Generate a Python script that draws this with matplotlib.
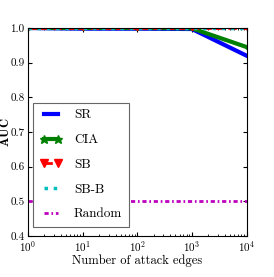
import matplotlib
matplotlib.use("Agg")
import matplotlib.pyplot as plt

plt.rcParams["font.family"] = ["cmr10", "DejaVu Serif"]
plt.rcParams["mathtext.fontset"] = "cm"
plt.rcParams["axes.formatter.use_mathtext"] = True
plt.rcParams["xtick.direction"] = "in"
plt.rcParams["ytick.direction"] = "in"
plt.rcParams["xtick.top"] = True
plt.rcParams["ytick.right"] = True

attack_edges = [1, 10, 100, 1000, 10000]
auc_sr = [1.0, 0.998, 0.998, 0.997, 0.920]
auc_cia = [1.0, 1.0, 1.0, 0.999, 0.945]
auc_sb = [1.0, 1.0, 1.0, 1.0, 1.0]
auc_sbb = [1.0, 1.0, 1.0, 1.0, 1.0]
auc_random = [0.5, 0.5, 0.5, 0.5, 0.5]
y_ticks = [0.4, 0.5, 0.6, 0.7, 0.8, 0.9, 1.0]

fig = plt.figure(figsize=(2.74, 2.77), dpi=100)
ax = fig.add_axes([0.102, 0.148, 0.798, 0.751])

ax.plot(attack_edges, auc_sr, color="b", linewidth=3, label="SR")
ax.plot(attack_edges, auc_cia, color="g", linewidth=3, marker="*",
        markersize=3, label="CIA")
ax.plot(attack_edges, auc_sb, color="r", linewidth=2, linestyle="--",
        dashes=(3, 1.5), marker="v", markersize=3, label="SB")
ax.plot(attack_edges, auc_sbb, color="c", linewidth=2.5, linestyle=":",
        label="SB-B")
ax.plot(attack_edges, auc_random, color="m", linewidth=2,
        dashes=(1.5, 1, 0.6, 1), label="Random")

ax.set_xscale("log")
ax.set_xlim(1, 10000)
ax.set_ylim(0.4, 1.0)
ax.set_yticks(y_ticks)
ax.set_yticklabels([f"{v:.1f}" for v in y_ticks])
ax.tick_params(labelsize=8, length=3, pad=2.5)
ax.tick_params(which="minor", length=1.5)
ax.set_xlabel("Number of attack edges", fontsize=9, labelpad=0)
ax.set_ylabel(r"$\mathbf{AUC}$", fontsize=9)
ax.yaxis.set_label_coords(-0.074, 0.5)

leg = ax.legend(loc="lower left", bbox_to_anchor=(0.023, 0.043),
                borderaxespad=0, fontsize=9.5, numpoints=2, markerscale=2.1,
                handlelength=1.7, handletextpad=0.9, borderpad=0.5,
                fancybox=False, framealpha=1, edgecolor="0.4",
                labelspacing=0.95)
leg.get_frame().set_linewidth(0.8)

fig.savefig("out.png", dpi=100)
